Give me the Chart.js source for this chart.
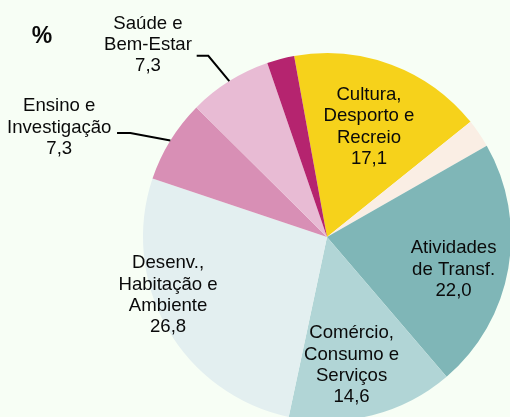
<!DOCTYPE html>
<html>
<head>
<meta charset="utf-8">
<script src="https://cdn.jsdelivr.net/npm/chart.js@4"></script>
<style>
  html, body { margin: 0; padding: 0; width: 510px; height: 417px; overflow: hidden; background: #F7FEF5; }
  #wrap { position: absolute; left: 0; top: 0; width: 600px; height: 500px; }
</style>
</head>
<body>
<div id="wrap"><canvas id="c" width="600" height="500"></canvas></div>
<script>
// ---- data ----
const categories = [
  "Cultura, Desporto e Recreio",
  "Outros",
  "Atividades de Transf.",
  "Comércio, Consumo e Serviços",
  "Desenv., Habitação e Ambiente",
  "Ensino e Investigação",
  "Saúde e Bem-Estar",
  "Outros (2)"
];
const categoryLines = [
  ["Cultura,", "Desporto e", "Recreio"],
  [],
  ["Atividades", "de Transf."],
  ["Comércio,", "Consumo e", "Serviços"],
  ["Desenv.,", "Habitação e", "Ambiente"],
  ["Ensino e", "Investigação"],
  ["Saúde e", "Bem-Estar"],
  []
];
const values = [17.1, 2.5, 22.0, 14.6, 26.8, 7.3, 7.3, 2.4];
const showValue = [true, false, true, true, true, true, true, false];
const unitLabel = "%";

// ---- styles ----
const colors = ["#F6D21B", "#FAEEE4", "#7FB6B7", "#B1D5D6", "#E3EFF0", "#D88FB5", "#E8BBD4", "#B5246F"];
// placement: inside labels -> angle offset (deg) + radius fraction; outside -> leader line
const placement = [
  { type: "in", dA: 0.4, r: 0.64 },
  null,
  { type: "in", dA: 4.5, r: 0.71 },
  { type: "in", dA: 3.4, r: 0.71 },
  { type: "in", dA: 9.6, r: 0.92 },
  { type: "out", elbow: [-40, -7.4], end: [-53.3, -7.4], text: [-57.8, -5.7] },
  { type: "out", elbow: [-21, -25.3], end: [-32.6, -25.3], text: [-48.7, -11] },
  null
];
const FONT = '18.6px "Liberation Sans", Arial, sans-serif';
const LH = 21.3;

function fmt(v) { return v.toFixed(1).replace('.', ','); }

const labelPlugin = {
  id: 'sliceLabels',
  afterDatasetsDraw(chart) {
    const ctx = chart.ctx;
    const meta = chart.getDatasetMeta(0);
    ctx.save();
    ctx.font = FONT;
    ctx.fillStyle = '#0a0a0a';
    ctx.textAlign = 'center';
    ctx.textBaseline = 'middle';
    meta.data.forEach((arc, i) => {
      const p = placement[i];
      if (!p) return;
      const { x, y, startAngle, endAngle, outerRadius } = arc.getProps(['x', 'y', 'startAngle', 'endAngle', 'outerRadius'], true);
      const mid = (startAngle + endAngle) / 2;
      const lines = categoryLines[i].slice();
      if (showValue[i]) lines.push(fmt(values[i]));
      let cx, cy;
      if (p.type === 'in') {
        const a = mid + p.dA * Math.PI / 180;
        cx = x + Math.cos(a) * outerRadius * p.r;
        cy = y + Math.sin(a) * outerRadius * p.r;
        const n = lines.length;
        lines.forEach((t, k) => ctx.fillText(t, cx, cy + (k - (n - 1) / 2) * LH));
      } else {
        const ex = x + Math.cos(mid) * outerRadius;
        const ey = y + Math.sin(mid) * outerRadius;
        ctx.beginPath();
        ctx.strokeStyle = '#000';
        ctx.lineWidth = 2;
        ctx.moveTo(ex, ey);
        ctx.lineTo(ex + p.elbow[0], ey + p.elbow[1]);
        ctx.lineTo(ex + p.end[0], ey + p.end[1]);
        ctx.stroke();
        const endx = ex + p.end[0], endy = ey + p.end[1];
        cx = endx + p.text[0];
        const midLineY = endy + p.text[1];
        lines.forEach((t, k) => ctx.fillText(t, cx, midLineY + (k - 1) * LH));
      }
    });
    // unit label
    ctx.font = 'bold 23px "Liberation Sans", Arial, sans-serif';
    ctx.fillStyle = '#0a0a0a';
    ctx.fillText(unitLabel, 42, 37);
    ctx.restore();
  }
};

new Chart(document.getElementById('c'), {
  type: 'pie',
  data: {
    labels: categories,
    datasets: [{
      data: values,
      backgroundColor: colors,
      borderWidth: 0
    }]
  },
  options: {
    responsive: false,
    animation: false,
    rotation: -10.3,
    layout: { padding: { left: 143, top: 53, right: 89, bottom: 79 } },
    plugins: {
      legend: { display: false },
      tooltip: { enabled: false },
      title: { display: false }
    }
  },
  plugins: [labelPlugin]
});
</script>
</body>
</html>
